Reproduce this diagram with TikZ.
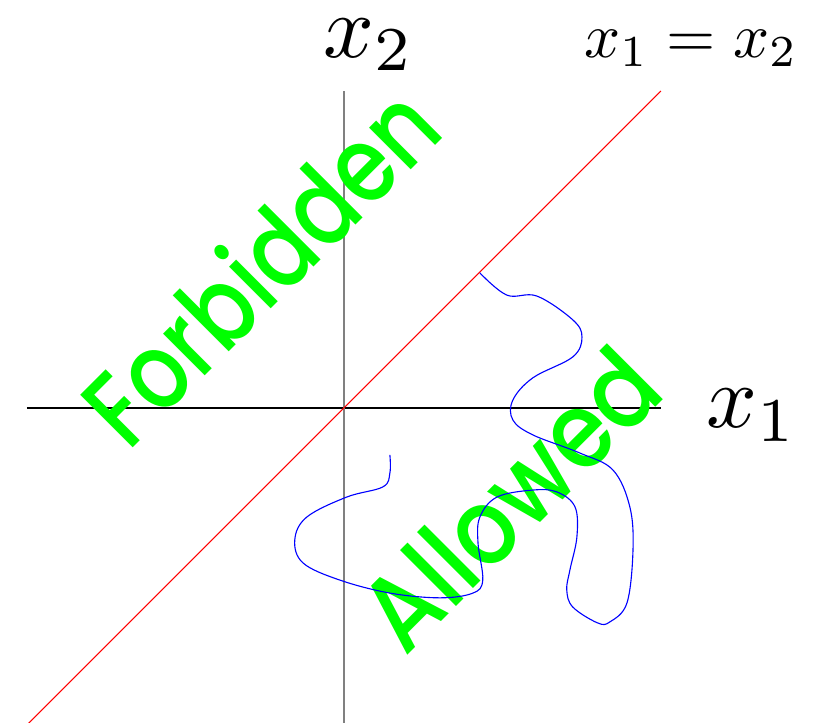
\documentclass[tikz,border=0pt]{standalone}
\usepackage{fontspec}
\usepackage{tikz}
\IfFontExistsTF{Poppins Medium}{\newfontfamily\regionfont{Poppins Medium}}{\newfontfamily\regionfont{Poppins}}
\newlength{\forbiddenwd}
\newlength{\allowedwd}

\begin{document}
\settowidth{\forbiddenwd}{\regionfont\fontsize{48}{48}\selectfont Forbidden}
\settowidth{\allowedwd}{\regionfont\fontsize{48}{48}\selectfont Allowed}
\begin{tikzpicture}[x=5cm, y=5cm,
		axislabel/.style={inner sep=0pt, anchor=base west, scale=4},
		region/.style={green, inner sep=0pt, anchor=base, rotate=45, font=\regionfont\fontsize{48}{48}\selectfont}]
			\useasboundingbox (-1.085,-0.991) rectangle (1.483,1.287);
			\pgfmathsetmacro{\forbiddenxs}{202pt/\forbiddenwd}
			\pgfmathsetmacro{\allowedxs}{167pt/\allowedwd}
			
			\coordinate (west) at (-1,0);
			\coordinate (east) at (1,0);
			\coordinate (south) at (0,-1);
			\coordinate (north) at (0,1);
			\coordinate (low) at (-1,-1);
			\coordinate (high) at (1,1);
			
			\draw[black, line width=0.6pt] (west) -- (east);
			\draw[gray, line width=0.9pt] (south) -- (north);
			\draw[red, line width=0.5pt] (low) -- (high);
			
			\node[axislabel] (x2) at (-0.07,1.107) {$x_2$};
			\node[axislabel] (x1) at (1.139,-0.063) {$x_1$};
			\node[axislabel, scale=0.71] (diag) at (0.754,1.107) {$x_1=x_2$};
			
			\node[region, xscale=\forbiddenxs] (forbidden) at (-0.177,0.363) {Forbidden};
			\node[region, xscale=\allowedxs] (allowed) at (0.609,-0.372) {Allowed};
			
			\draw[blue, line width=0.5pt] plot[smooth, tension=0.6] coordinates {
				(0.429,0.426) (0.514,0.356) (0.609,0.353) (0.722,0.278) (0.751,0.224)
				(0.722,0.161) (0.596,0.095) (0.533,0.025) (0.533,-0.038) (0.596,-0.085)
				(0.744,-0.142) (0.849,-0.196) (0.902,-0.312) (0.912,-0.448) (0.893,-0.615)
				(0.839,-0.675) (0.800,-0.678) (0.722,-0.628) (0.703,-0.574) (0.713,-0.511)
				(0.735,-0.407) (0.729,-0.312) (0.672,-0.265) (0.596,-0.259) (0.483,-0.281)
				(0.429,-0.344) (0.423,-0.426) (0.438,-0.543) (0.407,-0.584) (0.303,-0.599)
				(0.145,-0.584) (-0.013,-0.543) (-0.129,-0.489) (-0.155,-0.416) (-0.117,-0.344)
				(0.009,-0.281) (0.123,-0.249) (0.145,-0.205) (0.145,-0.148)};
		\end{tikzpicture}
\end{document}
